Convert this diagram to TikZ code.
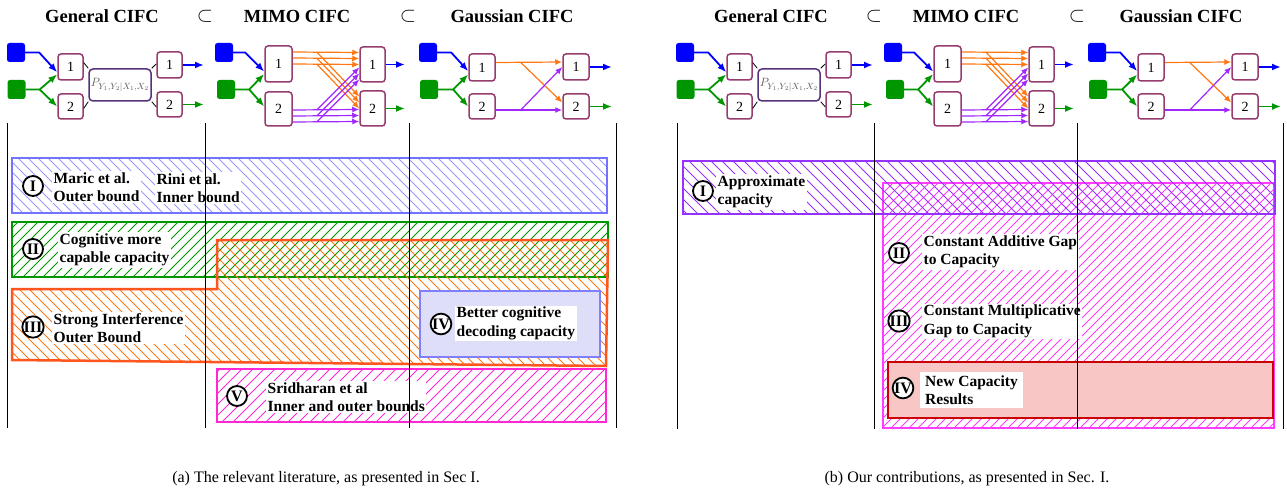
\documentclass[tikz,border=0pt]{standalone}
\usepackage{fontspec}
\setmainfont{Liberation Serif}
\usetikzlibrary{arrows.meta,calc}

\definecolor{plum}{RGB}{150,60,110}
\definecolor{chanpurple}{RGB}{85,50,120}
\definecolor{srcgreen}{RGB}{0,150,0}
\definecolor{arrorange}{RGB}{255,120,20}
\definecolor{arrpurple}{RGB}{160,40,255}
\definecolor{boxorange}{RGB}{255,85,30}
\definecolor{boxmagenta}{RGB}{255,40,210}
\definecolor{boxviolet}{RGB}{150,50,255}
\definecolor{boxpink}{RGB}{255,60,255}
\definecolor{newred}{RGB}{205,0,0}
\definecolor{newfill}{RGB}{249,198,198}
\definecolor{ivfill}{RGB}{222,222,248}

% hatching: clip path, line style, horizontal spacing, slope (1 = \, -1 = /)
\newcommand{\hatchfill}[4]{%
  \begin{scope}
    \clip #1;
    \foreach \k in {0,...,230}
      \draw[#2] ({\k*#3-450},{300-200*#4}) -- ({\k*#3-50},{300+200*#4});
  \end{scope}}

% the three channel sketches on top of each panel
\newcommand{\cifcrow}{%
  \node[hdr] (t1) at (102,16) {General CIFC};
  \node[subsym] (s1) at (205,16) {$\subset$};
  \node[hdr] (t2) at (297,16) {MIMO CIFC};
  \node[subsym] (s2) at (408,16) {$\subset$};
  \node[hdr] (t3) at (512,16) {Gaussian CIFC};
  % general
  \node[src, fill=blue] (g1s) at (16,52.5) {};
  \node[src, fill=srcgreen] (g2s) at (16.5,89.5) {};
  \node[term] (g1t) at (70.5,67) {1};
  \node[term, minimum height=25pt] (g2t) at (70.5,106.5) {2};
  \node[chan] (gch) at (120,85) {$P_{Y_1,Y_2|X_1,X_2}$};
  \node[term] (g1r) at (169.5,65) {1};
  \node[term, minimum height=25pt] (g2r) at (169.5,104.5) {2};
  \coordinate (g1o) at (204,65);
  \coordinate (g2o) at (204,104.5);
  \draw[barr] (g1s.east) -- ++(14,0) -- (g1t.202);
  \draw[garr] (g2s.east) -- ++(14,0) coordinate (g2j) -- (g1t.209);
  \draw[garr] (g2j) -- (g2t.180);
  \draw[chline] (g1t.18) -- (gch.north west);
  \draw[chline] (g2t.-8) -- (gch.south west);
  \draw[chline] (gch.north east) -- (g1r.175);
  \draw[chline] (gch.south east) -- (g2r.190);
  \draw[barr] (g1r.east) -- (g1o);
  \draw[garr] (g2r.east) -- (g2o);
  % mimo
  \node[src, fill=blue] (m1s) at (224,52.5) {};
  \node[src, fill=srcgreen] (m2s) at (226,89.5) {};
  \node[term, minimum width=27pt, minimum height=36pt] (m1t) at (278.5,64) {1};
  \node[term, minimum width=27pt, minimum height=34pt] (m2t) at (278.5,109) {2};
  \node[term, minimum height=35pt] (m1r) at (372.5,64.5) {1};
  \node[term, minimum height=35pt] (m2r) at (372.5,108.5) {2};
  \coordinate (m1o) at (405,64.5);
  \coordinate (m2o) at (405,108.5);
  \draw[barr] (m1s.east) -- ++(12,0) -- (m1t.208);
  \draw[garr] (m2s.east) -- ++(14,0) coordinate (m2j) -- (m1t.215);
  \draw[garr] (m2j) -- (m2t.170);
  \foreach \dy in {-12,-6,0} {
    \draw[oarr] ($(m1t.east)+(0,\dy)$) -- ($(m1r.west)+(0,\dy)$);
    \draw[oarr] ($(m1t.east)+(24,\dy)$) -- ($(m2r.west)+(0,\dy)$);
  }
  \foreach \dy in {1,7,13} {
    \draw[parr] ($(m2t.east)+(0,\dy)$) -- ($(m2r.west)+(0,\dy)$);
    \draw[parr] ($(m2t.east)+(24,\dy)$) -- ($(m1r.west)+(0,\dy+2)$);
  }
  \draw[barr] (m1r.east) -- (m1o);
  \draw[garr] (m2r.east) -- (m2o);
  % gaussian
  \node[src, fill=blue] (a1s) at (428,52.5) {};
  \node[src, fill=srcgreen] (a2s) at (429,89.5) {};
  \node[term, minimum width=26pt, minimum height=27pt] (a1t) at (482,67.5) {1};
  \node[term, minimum width=26pt, minimum height=25pt] (a2t) at (482,106.5) {2};
  \node[term, minimum width=26pt] (a1r) at (576,67) {1};
  \node[term, minimum width=26pt, minimum height=25pt] (a2r) at (576,106.5) {2};
  \coordinate (a1o) at (612,67);
  \coordinate (a2o) at (612,106.5);
  \draw[barr] (a1s.east) -- ++(14,0) -- (a1t.195);
  \draw[garr] (a2s.east) -- ++(15,0) coordinate (a2j) -- (a1t.207);
  \draw[garr] (a2j) -- (a2t.180);
  \draw[oarr] ($(a1t.east)+(0,-5)$) -- ($(a1r.west)+(0,-5)$);
  \draw[oarr] ($(a1t.east)+(25,-5)$) -- ($(a2r.west)+(0,-4)$);
  \draw[parr] ($(a2t.east)+(0,3.5)$) -- ($(a2r.west)+(0,3.5)$);
  \draw[parr] ($(a2t.east)+(25,3.5)$) -- (a1r.west);
  \draw[barr] (a1r.east) -- (a1o);
  \draw[garr] (a2r.east) -- (a2o);
}

\begin{document}
\begin{tikzpicture}[x=1pt,y=-1pt]
  \tikzstyle{hdr} = [font=\bfseries\fontsize{18.5}{20}\selectfont]
  \tikzstyle{subsym} = [inner sep=0pt, font=\fontsize{22}{22}\selectfont]
  \tikzstyle{src} = [rectangle, rounded corners=2.5pt, minimum width=18pt, minimum height=19pt, inner sep=0pt]
  \tikzstyle{term} = [rectangle, draw=plum, line width=1.5pt, fill=white, rounded corners=3pt, minimum width=25pt, minimum height=26pt, inner sep=0pt, font=\fontsize{14}{14}\selectfont]
  \tikzstyle{chan} = [rectangle, draw=chanpurple, line width=1.5pt, fill=white, rounded corners=4pt, minimum width=62pt, minimum height=32pt, inner sep=0pt, text=black!65, font=\fontsize{13}{13}\selectfont]
  \tikzstyle{barr} = [blue, line width=1.8pt, -{Latex[length=9pt,width=7pt]}]
  \tikzstyle{garr} = [srcgreen, line width=1.8pt, -{Latex[length=9pt,width=7pt]}]
  \tikzstyle{oarr} = [arrorange, line width=1.2pt, -{Latex[length=7pt,width=6pt]}]
  \tikzstyle{parr} = [arrpurple, line width=1.2pt, -{Latex[length=7pt,width=6pt]}]
  \tikzstyle{chline} = [black, line width=0.8pt]
  \tikzstyle{numc} = [circle, draw=black, line width=1.8pt, fill=white, minimum size=20pt, inner sep=0pt, font=\bfseries\fontsize{16}{16}\selectfont]
  \tikzstyle{lab} = [fill=white, align=left, inner sep=1.5pt, font=\bfseries\fontsize{15.5}{18.5}\selectfont]
  \tikzstyle{guide} = [black, line width=0.8pt]
  \tikzstyle{capt} = [font=\fontsize{16}{18}\selectfont]
  \tikzstyle{hl} = [line width=0.8pt]

  \useasboundingbox (0,0) rectangle (1287,497);

  % headers
  \begin{scope}[name prefix=a-]
    \cifcrow
  \end{scope}
  \begin{scope}[xshift=669pt, name prefix=b-]
    \cifcrow
  \end{scope}

  % (a) the literature
  \hatchfill{(12,158) rectangle (607,213)}{hl, blue!40}{10}{1}
  \draw[blue!55, line width=1.2pt] (12,158) rectangle (607,213);
  \hatchfill{(12,222) rectangle (608,277)}{hl, srcgreen}{10}{-1}
  \draw[srcgreen, line width=1.2pt] (12,222) rectangle (608,277);
  \hatchfill{(12,289) -- (217,289) -- (217,240) -- (608,240) -- (606,366) -- (12,360) -- cycle}{hl, arrorange}{10}{1}
  \draw[boxorange, line width=2.5pt] (12,289) -- (217,289) -- (217,240) -- (608,240) -- (606,366) -- (12,360) -- cycle;
  \draw[blue!50, line width=1.5pt, fill=ivfill] (420,291) rectangle (600,357);
  \hatchfill{(217,369) rectangle (606,422)}{hl, boxmagenta}{11}{-1}
  \draw[boxmagenta, line width=2.5pt] (217,369) rectangle (606,422);

  \node[numc] (lI) at (33,186) {I};
  \node[lab, anchor=west] (lIa) at (52,187) {Maric et al.\\Outer bound};
  \node[lab, anchor=west] (lIb) at (155,188) {Rini et al.\\Inner bound};
  \node[numc] (lII) at (33,249) {II};
  \node[lab, anchor=west] (lIIa) at (58,250) {Cognitive more\\capable capacity};
  \node[numc] (lIII) at (33,327) {III};
  \node[lab, anchor=west] (lIIIa) at (52,328) {Strong Interference\\Outer Bound};
  \node[numc] (lIV) at (441,324) {IV};
  \node[lab, anchor=west] (lIVa) at (455,323.5) {Better cognitive\\decoding capacity};
  \node[numc] (lV) at (237,396) {V};
  \node[lab, anchor=west] (lVa) at (266,397) {Sridharan et al\\Inner and outer bounds};

  % (b) our contributions
  \hatchfill{(883,183) rectangle (1274,428)}{hl, boxpink}{9}{-1}
  \draw[boxpink, line width=2pt] (883,183) rectangle (1274,428);
  \hatchfill{(683,161) rectangle (1275,214)}{hl, boxviolet}{11}{1}
  \draw[boxviolet, line width=1.5pt] (683,161) rectangle (1275,214);
  \draw[newred, line width=2.5pt, fill=newfill] (888,362) rectangle (1273,418);

  \node[numc] (rI) at (703,191) {I};
  \node[lab, anchor=west] (rIa) at (716,192) {Approximate\\capacity};
  \node[numc] (rII) at (899,253) {II};
  \node[lab, anchor=west] (rIIa) at (922,252) {Constant Additive Gap\\to Capacity};
  \node[numc] (rIII) at (899,321) {III};
  \node[lab, anchor=west] (rIIIa) at (922,321.5) {Constant Multiplicative\\Gap to Capacity};
  \node[numc] (rIV) at (903,388) {IV};
  \node[lab, anchor=west, inner xsep=5pt, inner ysep=3pt] (rIVa) at (920,390) {New Capacity\\Results\hspace*{6pt}};

  % guides
  \foreach \x in {7,205,409,616} \draw[guide] (\x,123) -- (\x,428);
  \foreach \x in {677,874,1077,1283} \draw[guide] (\x,123) -- (\x,429);

  % captions
  \node[capt] (capa) at (326,479) {(a) The relevant literature, as presented in Sec I.};
  \node[capt] (capb) at (967,479) {(b) Our contributions, as presented in Sec. I.};
\end{tikzpicture}
\end{document}
